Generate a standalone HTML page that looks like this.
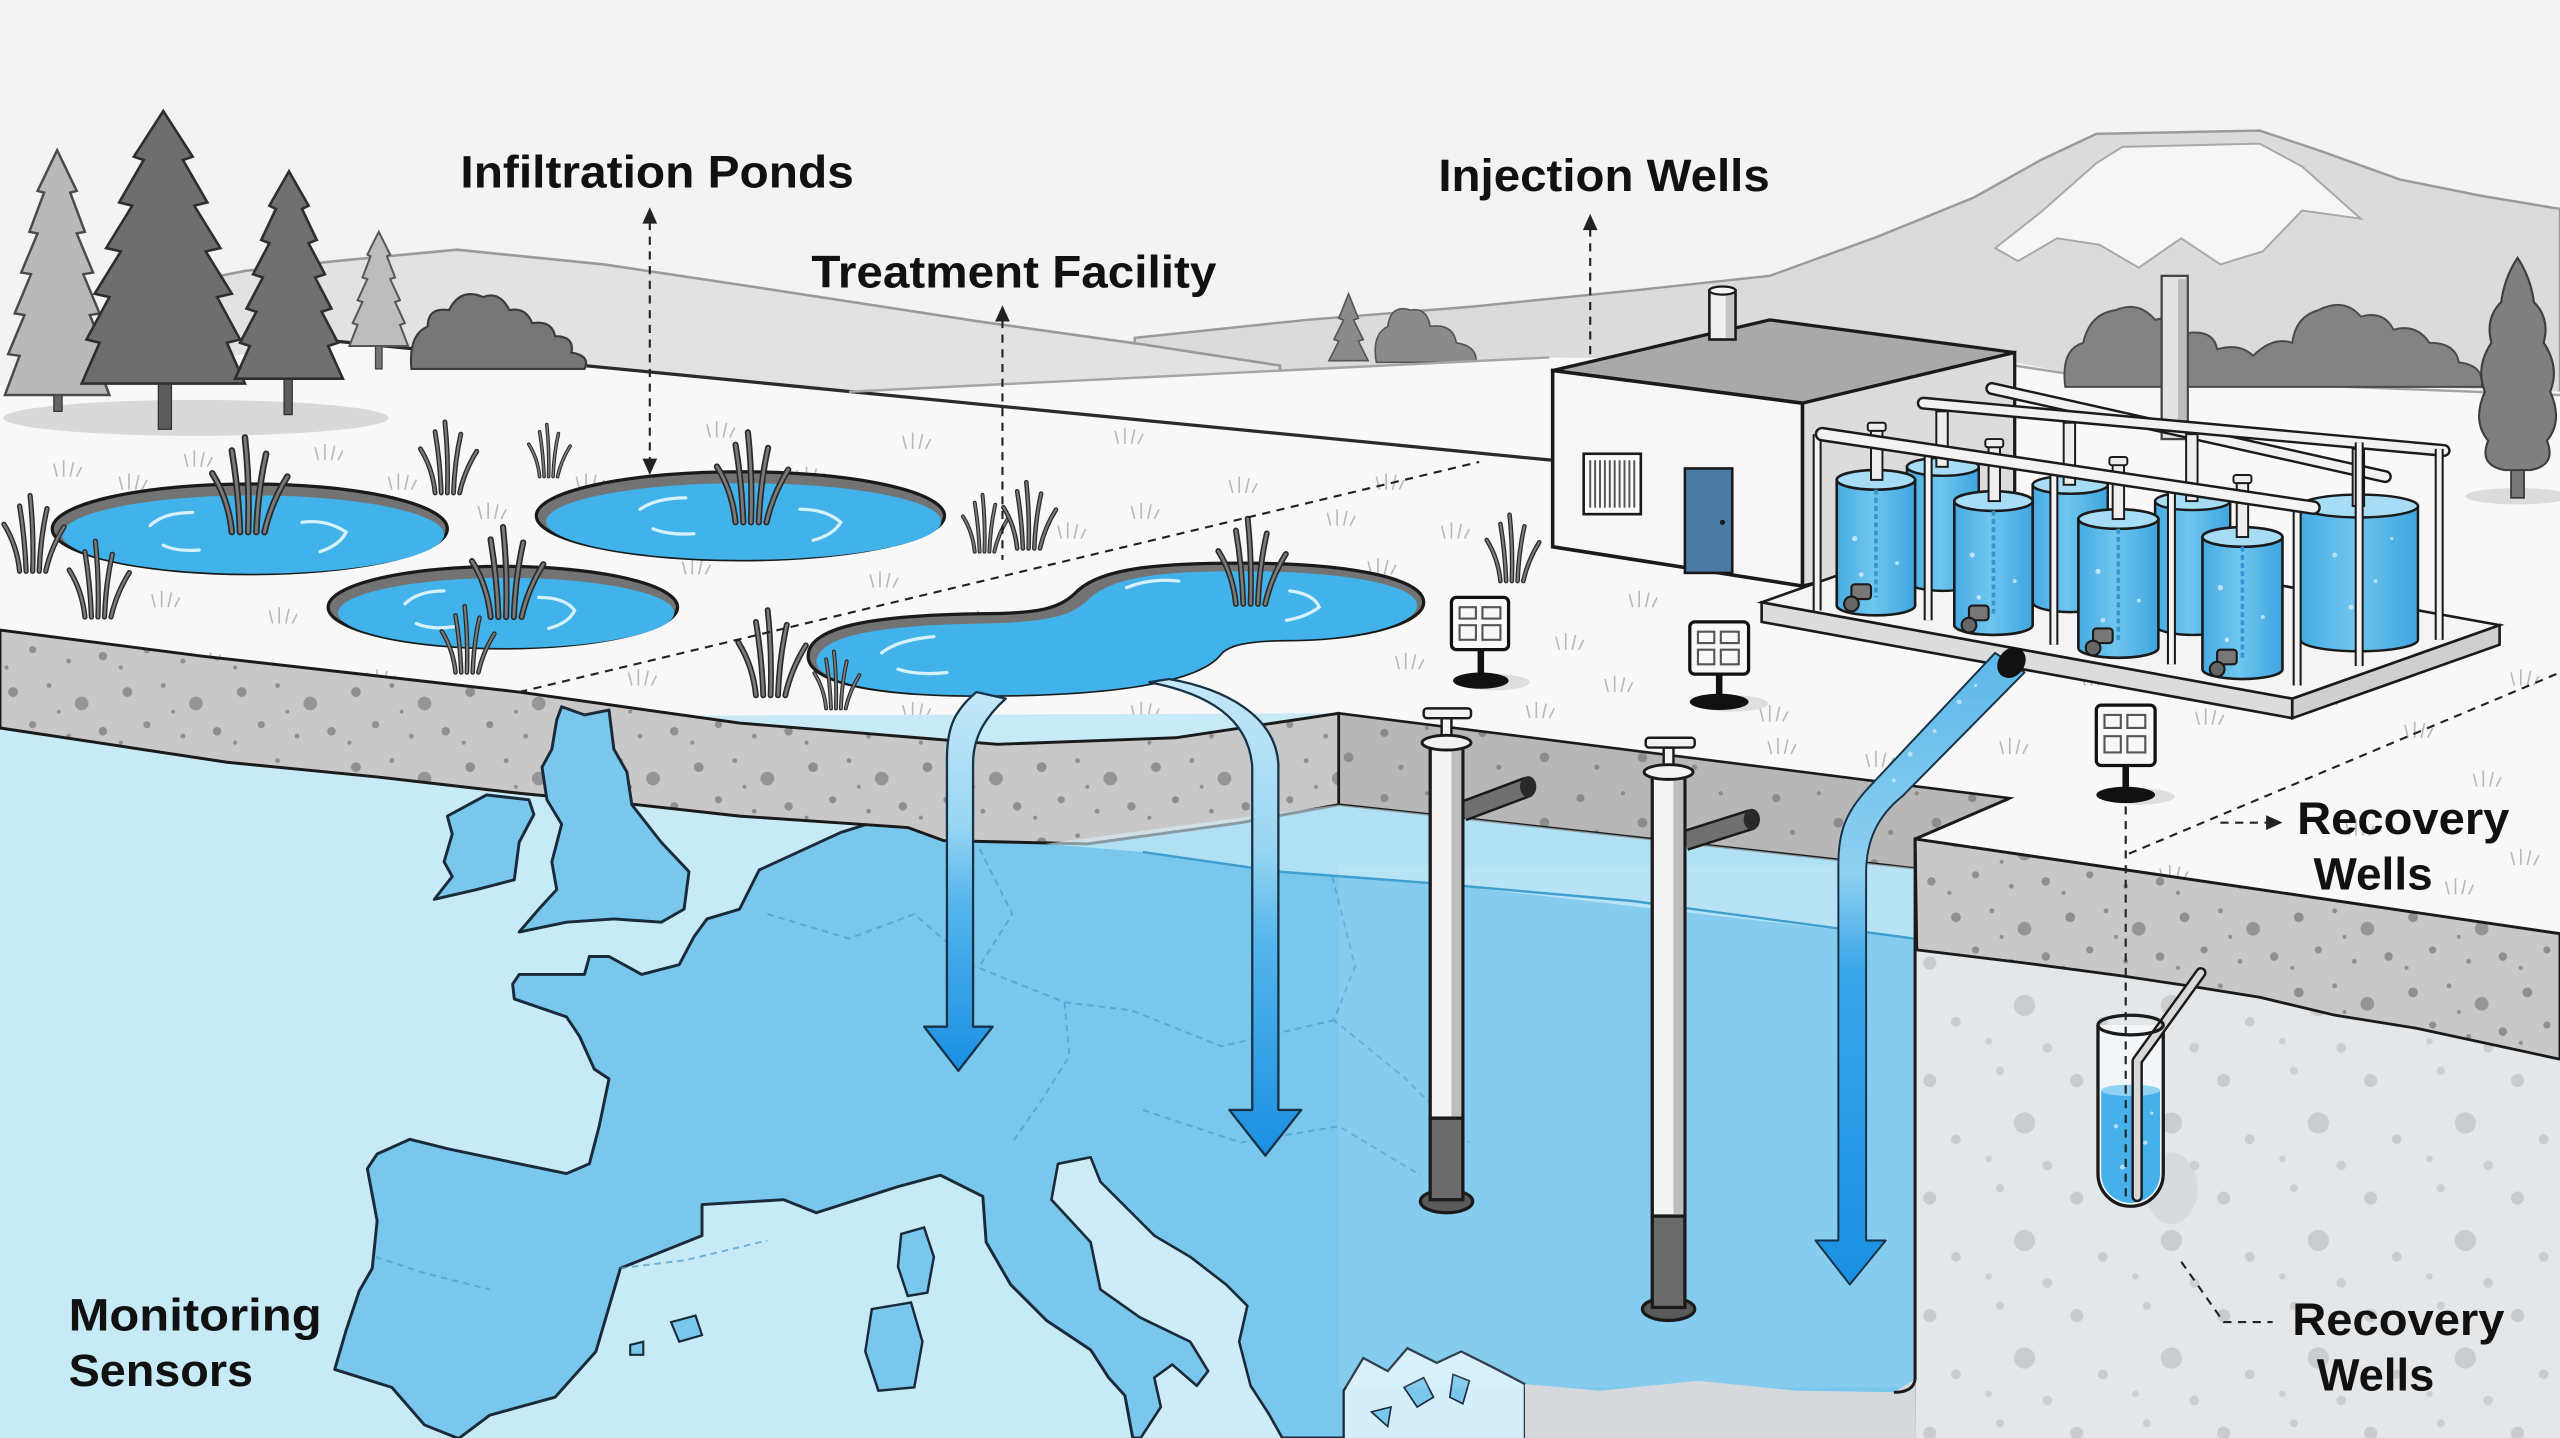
<!DOCTYPE html>
<html><head><meta charset="utf-8"><style>
html,body{margin:0;padding:0;background:#f2f3f2;overflow:hidden}
svg{display:block}
.lbl{font-family:"Liberation Sans",Arial,sans-serif;font-weight:bold;fill:#111;font-size:28px}
</style></head><body>
<svg width="2560" height="1438" viewBox="0 0 1568 881" preserveAspectRatio="none" xmlns="http://www.w3.org/2000/svg">
<defs>
<pattern id="soil" width="70" height="46" patternUnits="userSpaceOnUse">
<rect width="70" height="46" fill="#c8c8c8"/>
<circle cx="8" cy="10" r="3" fill="#8f8f8f"/><circle cx="30" cy="6" r="1.5" fill="#8f8f8f"/>
<circle cx="50" cy="17" r="4.2" fill="#959595"/><circle cx="20" cy="30" r="2.2" fill="#8f8f8f"/>
<circle cx="42" cy="37" r="1.5" fill="#8f8f8f"/><circle cx="63" cy="34" r="2.6" fill="#8f8f8f"/>
<circle cx="4" cy="41" r="1.3" fill="#8f8f8f"/><circle cx="36" cy="22" r="1.2" fill="#8f8f8f"/>
</pattern>
<pattern id="soilD" width="60" height="40" patternUnits="userSpaceOnUse">
<rect width="60" height="40" fill="#b7b7b7"/>
<circle cx="8" cy="9" r="2.5" fill="#8a8a8a"/><circle cx="34" cy="6" r="1.3" fill="#8a8a8a"/>
<circle cx="46" cy="24" r="3" fill="#8c8c8c"/><circle cx="18" cy="30" r="1.6" fill="#8a8a8a"/>
</pattern>
<pattern id="rock" width="90" height="72" patternUnits="userSpaceOnUse">
<rect width="90" height="72" fill="#e3e7e9"/>
<circle cx="12" cy="14" r="4" fill="#c8ccce"/><circle cx="55" cy="8" r="2.5" fill="#cbcfd1"/>
<circle cx="70" cy="40" r="6.5" fill="#c9cdcf"/><circle cx="28" cy="50" r="3" fill="#c8ccce"/>
<circle cx="48" cy="62" r="2" fill="#cbcfd1"/><circle cx="84" cy="66" r="3" fill="#cbcfd1"/>
</pattern>
<linearGradient id="arr" x1="0" y1="0" x2="0" y2="1">
<stop offset="0" stop-color="#c4e8f8"/><stop offset="0.35" stop-color="#9ad6f2"/>
<stop offset="0.55" stop-color="#55b6ec"/><stop offset="1" stop-color="#1a8fe2"/></linearGradient>
<linearGradient id="arr3" x1="0" y1="0" x2="0" y2="1">
<stop offset="0" stop-color="#5cb8ea"/><stop offset="0.35" stop-color="#8fd0f1"/>
<stop offset="0.5" stop-color="#3aa6ea"/><stop offset="1" stop-color="#1a8fe2"/></linearGradient>
<linearGradient id="tank" x1="0" y1="0" x2="1" y2="0">
<stop offset="0" stop-color="#47abe3"/><stop offset="0.45" stop-color="#6fc6ef"/><stop offset="1" stop-color="#3ea5e0"/></linearGradient>
<g id="tuft">
<path d="M-10 0 Q-12 -20 -22 -36 M-5 0 Q-6 -26 -10 -50 M0 0 Q1 -30 -2 -58 M5 0 Q6 -26 11 -48 M10 0 Q14 -18 24 -34" stroke="#2a2a2a" stroke-width="4" fill="none" stroke-linecap="round"/>
<path d="M-10 0 Q-12 -20 -22 -36 M-5 0 Q-6 -26 -10 -50 M0 0 Q1 -30 -2 -58 M5 0 Q6 -26 11 -48 M10 0 Q14 -18 24 -34" stroke="#7a7a7a" stroke-width="1.8" fill="none" stroke-linecap="round"/>
</g>
<g id="tick"><path d="M-5 0 L-7 -8 M-1 0 L-1 -10 M3 0 L5 -9 M7 0 L10 -6" stroke="#b9b9b9" stroke-width="1" fill="none"/></g>
</defs>

<rect width="1568" height="881" fill="#f2f3f2"/>

<!-- mountain -->
<path d="M695 207 L800 196 L900 188 L1000 178 L1084 169 L1150 145 L1209 121 L1250 98 L1284 82 L1384 80 L1420 92 L1470 110 L1520 120 L1568 128 L1568 260 L695 260 Z" fill="#dbdbdb" stroke="#9a9a9a" stroke-width="1.5"/>
<path d="M1222 152 L1250 130 L1284 100 L1300 90 L1384 88 L1410 102 L1446 134 L1410 129 L1386 154 L1360 162 L1336 146 L1310 164 L1286 150 L1260 146 L1236 160 Z" fill="#f6f6f6" stroke="#a8a8a8" stroke-width="1.2"/>
<!-- left hill -->
<path d="M100 176 L150 166 L205 160 L280 153 L370 162 L450 174 L600 197 L700 211 L784 224 L784 265 L100 265 Z" fill="#e2e2e2" stroke="#9a9a9a" stroke-width="1.6"/>

<!-- far small trees -->
<path d="M826 180 L820 195 L823 196 L817 208 L820 209 L814 221 L838 221 L832 209 L835 208 L829 196 L832 195 Z" fill="#8a8a8a" stroke="#555" stroke-width="1"/>
<path d="M843 222 Q840 205 850 200 Q852 186 864 190 Q874 188 876 200 Q890 198 892 210 Q905 212 904 222 Z" fill="#8a8a8a" stroke="#555" stroke-width="1"/>

<!-- ground -->
<path d="M0 236 L60 230 L205 209 L520 240 L949 219 L1234 222 L1280 231 L1568 240 L1568 881 L0 881 Z" fill="#f8f8f8"/>
<path d="M205 209 L951 282" stroke="#2a2a2a" stroke-width="2" fill="none"/>
<path d="M520 240 L949 219" stroke="#a5a5a5" stroke-width="1.5" fill="none"/>
<path d="M1234 224 L1280 231 L1568 242" stroke="#a5a5a5" stroke-width="1.5" fill="none"/>

<!-- right bushes & tree -->
<path d="M1265 237 Q1262 214 1276 210 Q1280 192 1296 190 Q1310 184 1320 196 Q1334 192 1340 204 Q1356 202 1358 214 Q1372 210 1380 218 Q1392 206 1404 210 Q1406 194 1420 190 Q1436 182 1446 194 Q1460 190 1466 202 Q1480 198 1488 210 Q1504 210 1506 222 Q1522 224 1520 237 Z" fill="#838383" stroke="#4a4a4a" stroke-width="1.2"/>
<ellipse cx="1542" cy="304" rx="32" ry="5" fill="#dcdcdc"/>
<rect x="1538" y="280" width="8" height="25" fill="#777" stroke="#333" stroke-width="1"/>
<path d="M1542 158 Q1550 170 1552 185 Q1562 195 1558 210 Q1568 225 1562 240 Q1570 258 1560 270 Q1566 285 1550 288 L1534 288 Q1518 285 1524 270 Q1514 258 1522 240 Q1516 225 1526 210 Q1522 195 1532 185 Q1534 170 1542 158 Z" fill="#7f7f7f" stroke="#3e3e3e" stroke-width="1.3"/>

<!-- left trees -->
<ellipse cx="120" cy="256" rx="118" ry="11" fill="#d9d9d9"/>
<rect x="33" y="236" width="5" height="16" fill="#666" stroke="#333" stroke-width="0.8"/>
<path d="M35 92 L23 117 L27 118 L18 142 L23 143 L13 167 L19 168 L9 192 L15 193 L5 217 L12 218 L3 242 L67 242 L58 218 L65 217 L55 193 L61 192 L51 168 L57 167 L47 143 L52 142 L43 118 L47 117 Z" fill="#b9b9b9" stroke="#4a4a4a" stroke-width="1.5"/>
<rect x="97" y="230" width="8" height="33" fill="#5c5c5c" stroke="#333" stroke-width="0.8"/>
<path d="M100 68 L82 96 L88 98 L73 124 L81 126 L65 152 L74 154 L58 180 L67 182 L53 208 L61 210 L50 235 L150 235 L139 210 L147 208 L133 182 L142 180 L126 154 L135 152 L119 126 L127 124 L112 98 L118 96 Z" fill="#6e6e6e" stroke="#2e2e2e" stroke-width="1.6"/>
<rect x="174" y="228" width="5" height="26" fill="#5c5c5c" stroke="#333" stroke-width="0.8"/>
<path d="M177 105 L165 126 L169 128 L160 147 L165 149 L155 168 L161 170 L151 189 L157 191 L147 210 L153 212 L144 232 L210 232 L201 212 L207 210 L197 191 L203 189 L193 170 L199 168 L189 149 L194 147 L185 128 L189 126 Z" fill="#707070" stroke="#2e2e2e" stroke-width="1.6"/>
<rect x="230" y="208" width="4" height="18" fill="#777" stroke="#444" stroke-width="0.8"/>
<path d="M232 142 L225 156 L227 157 L222 170 L225 171 L219 184 L222 185 L216 198 L219 199 L214 212 L250 212 L245 199 L248 198 L242 185 L245 184 L239 171 L242 170 L237 157 L239 156 Z" fill="#bdbdbd" stroke="#555" stroke-width="1.2"/>
<path d="M252 226 Q250 205 262 200 Q262 188 275 190 Q282 176 296 182 Q306 178 312 190 Q322 188 326 198 Q338 196 340 206 Q352 206 350 216 Q362 218 358 226 Z" fill="#767676" stroke="#3a3a3a" stroke-width="1.3"/>

<!-- grass ticks -->
<g>
<use href="#tick" x="40" y="292"/><use href="#tick" x="120" y="286"/><use href="#tick" x="200" y="282"/>
<use href="#tick" x="245" y="300"/><use href="#tick" x="300" y="318"/><use href="#tick" x="360" y="300"/>
<use href="#tick" x="425" y="352"/><use href="#tick" x="495" y="296"/><use href="#tick" x="540" y="360"/>
<use href="#tick" x="600" y="384"/><use href="#tick" x="655" y="330"/><use href="#tick" x="700" y="318"/>
<use href="#tick" x="820" y="322"/><use href="#tick" x="845" y="352"/><use href="#tick" x="862" y="410"/>
<use href="#tick" x="890" y="330"/><use href="#tick" x="960" y="398"/><use href="#tick" x="990" y="424"/>
<use href="#tick" x="1085" y="442"/><use href="#tick" x="1005" y="372"/><use href="#tick" x="1150" y="470"/>
<use href="#tick" x="1232" y="462"/><use href="#tick" x="1282" y="420"/><use href="#tick" x="1352" y="444"/>
<use href="#tick" x="1424" y="432"/><use href="#tick" x="1480" y="452"/><use href="#tick" x="1522" y="482"/>
<use href="#tick" x="1545" y="420"/><use href="#tick" x="1444" y="512"/><use href="#tick" x="1505" y="548"/>
<use href="#tick" x="100" y="372"/><use href="#tick" x="172" y="382"/><use href="#tick" x="232" y="420"/>
<use href="#tick" x="130" y="410"/><use href="#tick" x="392" y="420"/><use href="#tick" x="560" y="440"/>
<use href="#tick" x="700" y="440"/><use href="#tick" x="942" y="440"/><use href="#tick" x="80" y="300"/>
<use href="#tick" x="560" y="275"/><use href="#tick" x="440" y="268"/><use href="#tick" x="690" y="272"/>
<use href="#tick" x="760" y="302"/><use href="#tick" x="1545" y="530"/><use href="#tick" x="1330" y="540"/>
<use href="#tick" x="1090" y="462"/><use href="#tick" x="850" y="300"/>
</g>

<!-- building -->
<path d="M951 227 L1084 196 L1234 216 L1104 247 Z" fill="#a9a9a9" stroke="#1a1a1a" stroke-width="2"/>
<path d="M1104 247 L1234 216 L1234 330 L1104 359 Z" fill="#dcdcdc" stroke="#1a1a1a" stroke-width="2"/>
<path d="M951 227 L1104 247 L1104 359 L951 335 Z" fill="#f6f6f6" stroke="#1a1a1a" stroke-width="2.2"/>
<rect x="1047" y="178" width="16" height="30" fill="#efefef" stroke="#1a1a1a" stroke-width="1.6"/>
<rect x="1057" y="180" width="5" height="27" fill="#c4c4c4"/>
<ellipse cx="1055" cy="178" rx="8" ry="2.5" fill="#f6f6f6" stroke="#1a1a1a" stroke-width="1.4"/>
<rect x="970" y="278" width="35" height="37" fill="#fafafa" stroke="#1a1a1a" stroke-width="1.6"/>
<path d="M974 282 V311 M977 282 V311 M980 282 V311 M983 282 V311 M986 282 V311 M989 282 V311 M992 282 V311 M995 282 V311 M998 282 V311 M1001 282 V311" stroke="#555" stroke-width="1.2"/>
<rect x="1032" y="287" width="29" height="64" fill="#4a7ba7" stroke="#1a1a1a" stroke-width="1.6"/>
<circle cx="1055" cy="320" r="1.6" fill="#1a1a1a"/>

<!-- stack -->
<rect x="1324" y="169" width="16" height="100" fill="#e2e2e2" stroke="#444" stroke-width="1.4"/>
<rect x="1334" y="171" width="5" height="96" fill="#bcbcbc"/>

<!-- platform -->
<path d="M1079 369 L1404 428 L1404 440 L1079 381 Z" fill="#dcdcdc" stroke="#1a1a1a" stroke-width="1.6"/>
<path d="M1404 428 L1531 383 L1531 395 L1404 440 Z" fill="#cfcfcf" stroke="#1a1a1a" stroke-width="1.6"/>
<path d="M1079 369 L1206 324 L1531 383 L1404 428 Z" fill="#f4f4f4" stroke="#1a1a1a" stroke-width="1.6"/>

<!-- back tanks -->
<g stroke="#1a1a1a" stroke-width="1.5">
<path d="M1168 286 V356 A22 6 0 0 0 1212 356 V286 Z" fill="url(#tank)"/><ellipse cx="1190" cy="286" rx="22" ry="5.5" fill="#a6dcf5"/>
<path d="M1245 297 V369 A23 6 0 0 0 1291 369 V297 Z" fill="url(#tank)"/><ellipse cx="1268" cy="297" rx="23" ry="5.5" fill="#a6dcf5"/>
<path d="M1320 307 V383 A23 6 0 0 0 1366 383 V307 Z" fill="url(#tank)"/><ellipse cx="1343" cy="307" rx="23" ry="5.5" fill="#a6dcf5"/>
<path d="M1409 310 V392 A36 7 0 0 0 1481 392 V310 Z" fill="url(#tank)"/><ellipse cx="1445" cy="310" rx="36" ry="7" fill="#a6dcf5"/>
</g>
<g fill="#ffffff" opacity="0.55">
<circle cx="1430" cy="340" r="1.5"/><circle cx="1455" cy="356" r="1.2"/><circle cx="1440" cy="372" r="1.5"/><circle cx="1465" cy="330" r="1"/>
</g>

<path d="M1220 238 L1461 292" stroke="#1a1a1a" stroke-width="8" stroke-linecap="round"/>
<path d="M1220 238 L1461 292" stroke="#f1f1f1" stroke-width="5" stroke-linecap="round"/>
<path d="M1178 247 L1497 276" stroke="#1a1a1a" stroke-width="8" stroke-linecap="round"/>
<path d="M1178 247 L1497 276" stroke="#f1f1f1" stroke-width="5" stroke-linecap="round"/>
<g fill="#eeeeee" stroke="#1a1a1a" stroke-width="1.2">
<rect x="1186" y="252" width="7" height="34"/><rect x="1264" y="259" width="7" height="38"/>
<rect x="1339" y="266" width="7" height="41"/><rect x="1441" y="275" width="7" height="35"/>
</g>
<g stroke-linecap="butt">
<path d="M1113 266 V374 M1181 276 V380 M1258 287 V395 M1330 297 V407 M1407 309 V420 M1445 271 V408 M1494 275 V392" stroke="#1a1a1a" stroke-width="5.5"/>
<path d="M1113 266 V374 M1181 276 V380 M1258 287 V395 M1330 297 V407 M1407 309 V420 M1445 271 V408 M1494 275 V392" stroke="#f3f3f3" stroke-width="3"/>
</g>

<!-- front tanks -->
<g stroke="#1a1a1a" stroke-width="1.6">
<path d="M1125 294 V371 A24 6 0 0 0 1173 371 V294 Z" fill="url(#tank)"/><ellipse cx="1149" cy="294" rx="24" ry="6" fill="#a6dcf5"/>
<path d="M1197 307 V383 A24 6 0 0 0 1245 383 V307 Z" fill="url(#tank)"/><ellipse cx="1221" cy="307" rx="24" ry="6" fill="#a6dcf5"/>
<path d="M1273 318 V397 A24.5 6 0 0 0 1322 397 V318 Z" fill="url(#tank)"/><ellipse cx="1297.5" cy="318" rx="24.5" ry="6" fill="#a6dcf5"/>
<path d="M1349 329 V410 A24.5 6 0 0 0 1398 410 V329 Z" fill="url(#tank)"/><ellipse cx="1373.5" cy="329" rx="24.5" ry="6" fill="#a6dcf5"/>
</g>
<g stroke="#3596cf" stroke-width="2.2" stroke-dasharray="3 2" fill="none">
<path d="M1149 300 V366 M1221 313 V378 M1297.5 324 V392 M1373.5 335 V404"/>
</g>
<g fill="#ffffff" opacity="0.6">
<circle cx="1136" cy="330" r="1.6"/><circle cx="1162" cy="345" r="1.2"/><circle cx="1140" cy="352" r="1.4"/>
<circle cx="1208" cy="340" r="1.6"/><circle cx="1234" cy="356" r="1.2"/><circle cx="1212" cy="366" r="1.4"/>
<circle cx="1285" cy="350" r="1.6"/><circle cx="1310" cy="368" r="1.2"/><circle cx="1288" cy="380" r="1.4"/>
<circle cx="1360" cy="360" r="1.6"/><circle cx="1386" cy="378" r="1.2"/><circle cx="1364" cy="392" r="1.4"/>
</g>
<g fill="#777" stroke="#1a1a1a" stroke-width="1.3">
<rect x="1134" y="358" width="12" height="9" rx="2"/><circle cx="1134" cy="370" r="4.5" fill="#666"/>
<rect x="1206" y="371" width="12" height="9" rx="2"/><circle cx="1206" cy="383" r="4.5" fill="#666"/>
<rect x="1282" y="385" width="12" height="9" rx="2"/><circle cx="1282" cy="397" r="4.5" fill="#666"/>
<rect x="1358" y="398" width="12" height="9" rx="2"/><circle cx="1358" cy="410" r="4.5" fill="#666"/>
</g>
<g fill="#eeeeee" stroke="#1a1a1a" stroke-width="1.2">
<rect x="1146" y="262" width="7" height="32"/><rect x="1218" y="272" width="7" height="35"/>
<rect x="1294" y="283" width="7" height="35"/><rect x="1370" y="294" width="7" height="35"/>
<rect x="1144" y="259" width="11" height="5" rx="1.5"/><rect x="1216" y="269" width="11" height="5" rx="1.5"/>
<rect x="1292" y="280" width="11" height="5" rx="1.5"/><rect x="1368" y="291" width="11" height="5" rx="1.5"/>
</g>
<path d="M1116 266 L1417 311" stroke="#1a1a1a" stroke-width="9" stroke-linecap="round"/>
<path d="M1116 266 L1417 311" stroke="#f3f3f3" stroke-width="6" stroke-linecap="round"/>

<!-- ponds -->
<g stroke="#1a1a1a" stroke-width="2">
<ellipse cx="153" cy="324" rx="121" ry="27.5" fill="#737373"/>
<ellipse cx="155" cy="327.5" rx="117" ry="24" fill="#41b2ea" stroke="none"/>
<ellipse cx="453.5" cy="316" rx="125" ry="27" fill="#737373"/>
<ellipse cx="455.5" cy="319.5" rx="121" ry="23.5" fill="#41b2ea" stroke="none"/>
<ellipse cx="308" cy="372" rx="107" ry="25" fill="#737373"/>
<ellipse cx="310" cy="375.5" rx="103" ry="21.5" fill="#41b2ea" stroke="none"/>
<path d="M495 402 C495 385 530 377 600 376 C640 376 650 372 660 362 C675 348 710 345 760 345 C830 345 872 355 872 369 C872 383 830 392 790 392 C760 392 752 396 748 400 C735 418 680 426 600 426 C535 426 495 418 495 402 Z" fill="#737373"/>
<path d="M500 405 C502 390 535 383 603 382 C644 381 656 377 666 368 C680 353 712 350 762 350 C828 350 868 359 868 371 C868 383 830 392 790 392 C760 392 752 396 748 400 C735 418 680 426 600 426 C537 426 500 418 500 405 Z" fill="#41b2ea" stroke="none"/>
</g>
<g stroke="#d6f1fc" stroke-width="2" fill="none" stroke-linecap="round">
<path d="M92 322 Q100 314 118 314 M100 334 Q108 338 122 337 M185 320 Q200 318 212 326 Q208 334 196 338"/>
<path d="M392 312 Q402 305 420 305 M400 324 Q410 328 425 327 M490 312 Q506 312 515 320 Q510 328 498 331"/>
<path d="M248 370 Q256 362 272 362 M255 382 Q264 386 278 384 M330 366 Q346 366 352 374 Q348 382 336 385"/>
<path d="M540 400 Q550 392 572 390 M550 410 Q562 414 580 412 M690 360 Q705 354 722 356 M790 362 Q805 364 808 372 Q800 378 788 380"/>
</g>

<!-- grass tufts -->
<use href="#tuft" transform="translate(152,326)"/>
<use href="#tuft" transform="translate(20,350) scale(0.8)"/>
<use href="#tuft" transform="translate(60,378) scale(0.8)"/>
<use href="#tuft" transform="translate(274,302) scale(0.75)"/>
<use href="#tuft" transform="translate(336,292) scale(0.55)"/>
<use href="#tuft" transform="translate(460,320) scale(0.95)"/>
<use href="#tuft" transform="translate(310,378) scale(0.95)"/>
<use href="#tuft" transform="translate(286,412) scale(0.7)"/>
<use href="#tuft" transform="translate(472,426) scale(0.9)"/>
<use href="#tuft" transform="translate(512,434) scale(0.6)"/>
<use href="#tuft" transform="translate(603,338) scale(0.6)"/>
<use href="#tuft" transform="translate(630,336) scale(0.7)"/>
<use href="#tuft" transform="translate(766,370) scale(0.9)"/>
<use href="#tuft" transform="translate(926,356) scale(0.7)"/>

<!-- map -->
<path d="M0 440 L820 437 L1173 482 L1173 881 L0 881 Z" fill="#c7eaf7"/>
<path d="M550 470 L820 470 L1173 486 L1173 881 L280 881 L260 873 L240 850 L205 839 L212 815 L220 791 L228 777 L231 748 L225 716 L231 707 L251 698 L275 704 L318 713 L347 719 L361 713 L367 690 L373 661 L364 655 L355 635 L347 623 L315 612 L314 603 L318 597 L358 597 L361 586 L373 586 L393 597 L416 591 L425 574 L433 563 L453 557 L465 533 L515 510 L550 499 Z" fill="#79c7ec" stroke="#1a2a38" stroke-width="1.8" stroke-linejoin="round"/>
<path d="M280 882 L300 867 L340 856 L365 828 L380 777 L430 757 L430 738 L480 735 L500 743 L550 727 L576 720 L602 733 L604 761 L619 787 L641 809 L668 827 L679 844 L689 855 L694 882 Z" fill="#c7eaf7" stroke="#1a2a38" stroke-width="1.8" stroke-linejoin="round"/>
<path d="M648 713 L668 709 L674 724 L689 739 L707 757 L729 770 L751 787 L764 800 L759 822 L766 849 L777 866 L786 882 L698 882 L711 862 L707 844 L718 836 L733 849 L740 840 L729 822 L698 807 L674 790 L668 761 L644 735 Z" fill="#cdecf8" stroke="#1a2a38" stroke-width="1.6" stroke-linejoin="round"/>
<path d="M823 882 L823 852 L835 832 L850 840 L862 826 L880 835 L895 828 L915 838 L934 848 L934 882 Z" fill="#d4eff9" stroke="#1a2a38" stroke-width="1.4"/>
<path d="M860 850 L872 844 L878 856 L868 862 Z M890 842 L900 846 L896 860 L888 856 Z M840 865 L852 862 L850 874 Z" fill="#79c7ec" stroke="#1a2a38" stroke-width="1"/>
<path d="M552 756 L566 752 L572 770 L568 792 L556 794 L550 776 Z" fill="#79c7ec" stroke="#1a2a38" stroke-width="1.5"/>
<path d="M534 802 L558 798 L565 822 L560 850 L538 852 L530 828 Z" fill="#79c7ec" stroke="#1a2a38" stroke-width="1.5"/>
<path d="M411 810 L426 806 L430 818 L416 822 Z M386 824 L394 822 L394 830 L386 830 Z" fill="#79c7ec" stroke="#1a2a38" stroke-width="1.3"/>
<g stroke="#4e9fcd" stroke-width="1.2" stroke-dasharray="4 3" fill="none" opacity="0.75">
<path d="M470 560 L520 575 L560 560 L597 592 L652 614 L693 619 L748 641 L817 625"/>
<path d="M652 614 L655 647 L638 674 L620 700"/>
<path d="M816 537 L830 592 L817 625 L860 660 L900 700"/>
<path d="M380 777 L420 772 L470 760"/>
<path d="M230 770 L260 780 L300 790"/>
<path d="M700 680 L760 700 L820 690 L870 720"/>
<path d="M600 520 L620 560 L600 592"/>
</g>

<!-- soil -->
<path d="M0 386 L124 402 L318 424 L453 443 L611 456 L720 452 L820 437 L820 493 L760 504 L666 517 L578 515 L556 507 L453 500 L390 493 L318 486 L231 476 L139 467 L60 455 L0 446 Z" fill="url(#soil)" stroke="#1a1a1a" stroke-width="1.8" stroke-linejoin="round"/>
<path d="M820 437 L1231 489 L1173 514 L1173 532 L876 499 L820 493 Z" fill="url(#soilD)" stroke="#1a1a1a" stroke-width="1.6"/>
<path d="M1173 514 L1568 572 L1568 649 L1480 630 L1430 622 L1384 611 L1340 604 L1300 598 L1240 590 L1174 582 Z" fill="url(#soil)" stroke="#1a1a1a" stroke-width="1.8"/>
<path d="M1174 582 L1240 590 L1300 598 L1340 604 L1384 611 L1430 622 L1480 630 L1568 649 L1568 881 L1173 881 Z" fill="url(#rock)"/>
<path d="M1174 582 L1240 590 L1300 598 L1340 604 L1384 611 L1430 622 L1480 630 L1568 649" stroke="#1a1a1a" stroke-width="1.6" fill="none"/>
<path d="M640 517 L820 493 L876 499 L1173 532 L1173 575 L876 541 L783 534 L700 522 Z" fill="#d6f0fa" opacity="0.6"/>
<rect x="820" y="530" width="353" height="320" fill="#ffffff" opacity="0.1"/>
<path d="M700 522 L783 534 L876 541 L1000 552 L1172 575" stroke="#3e9fd2" stroke-width="1.5" fill="none"/>
<path d="M934 848 L980 852 L1040 846 L1100 852 L1160 853 L1173 845 L1173 881 L934 881 Z" fill="#d6d9db"/>
<path d="M1173 514 L1173 845 Q1172 853 1160 853" stroke="#1a1a1a" stroke-width="1.8" fill="none"/>
<path d="M1231 489 L1173 514" stroke="#1a1a1a" stroke-width="1.8" fill="none"/>

<!-- Ireland & GB -->
<path d="M274 500 L298 487 L324 490 L327 499 L318 516 L315 539 L292 545 L266 551 L277 537 L272 528 L277 511 Z" fill="#79c7ec" stroke="#1a2a38" stroke-width="1.8" stroke-linejoin="round"/>
<path d="M344 433 L358 438 L373 435 L376 459 L384 473 L387 493 L405 516 L422 534 L419 557 L405 565 L376 563 L347 565 L318 571 L330 557 L341 545 L338 528 L344 505 L335 490 L332 470 L338 459 L341 441 Z" fill="#79c7ec" stroke="#1a2a38" stroke-width="1.8" stroke-linejoin="round"/>

<!-- stream arrows -->
<path d="M598 424 C585 435 580 445 580 465 L580 629 L566 629 L587 656 L608 629 L596 629 L596 468 C596 450 605 438 616 428 Z" fill="url(#arr)" stroke="#173246" stroke-width="1.4" stroke-linejoin="round"/>
<path d="M704 418 C740 425 765 440 767 470 L767 680 L753 680 L775 708 L797 680 L783 680 L783 468 C781 438 750 422 716 416 Z" fill="url(#arr)" stroke="#173246" stroke-width="1.4" stroke-linejoin="round"/>
<path d="M1222 400 L1145 482 C1130 498 1126 510 1126 530 L1126 760 L1112 760 L1133 787 L1155 760 L1143 760 L1143 535 C1143 515 1150 500 1165 488 L1240 412 Z" fill="url(#arr3)" stroke="#173246" stroke-width="1.2" stroke-linejoin="round"/>
<g fill="#ffffff" opacity="0.5"><circle cx="1200" cy="430" r="1.5"/><circle cx="1185" cy="448" r="1.2"/><circle cx="1170" cy="462" r="1.5"/><circle cx="1210" cy="420" r="1"/><circle cx="1160" cy="478" r="1.2"/></g>
<ellipse cx="1232" cy="406" rx="8" ry="10" transform="rotate(35 1232 406)" fill="#111"/>

<!-- well 1 -->
<path d="M896 497 L936 482" stroke="#1a1a1a" stroke-width="13" stroke-linecap="butt"/>
<path d="M896 497 L936 482" stroke="#707070" stroke-width="10"/>
<ellipse cx="936" cy="482" rx="5" ry="6.5" fill="#2a2a2a"/>
<ellipse cx="886" cy="736" rx="16" ry="7" fill="#5a5a5a" stroke="#1a1a1a" stroke-width="2"/>
<rect x="876" y="685" width="20" height="50" fill="#6b6b6b" stroke="#1a1a1a" stroke-width="2"/>
<rect x="876" y="455" width="20" height="230" fill="#f3f3f3" stroke="#1a1a1a" stroke-width="2"/>
<rect x="889" y="457" width="6" height="227" fill="#bdbdbd"/>
<rect x="883" y="440" width="6" height="14" fill="#f2f2f2" stroke="#1a1a1a" stroke-width="1.5"/>
<rect x="872" y="434" width="29" height="6" rx="2" fill="#f2f2f2" stroke="#1a1a1a" stroke-width="1.5"/>
<ellipse cx="886" cy="455" rx="15" ry="4.5" fill="#f2f2f2" stroke="#1a1a1a" stroke-width="1.8"/>
<!-- well 2 -->
<path d="M1032 515 L1073 502" stroke="#1a1a1a" stroke-width="13"/>
<path d="M1032 515 L1073 502" stroke="#707070" stroke-width="10"/>
<ellipse cx="1073" cy="502" rx="5" ry="6.5" fill="#2a2a2a"/>
<ellipse cx="1022" cy="802" rx="16" ry="7" fill="#5a5a5a" stroke="#1a1a1a" stroke-width="2"/>
<rect x="1012" y="745" width="20" height="56" fill="#6b6b6b" stroke="#1a1a1a" stroke-width="2"/>
<rect x="1012" y="473" width="20" height="272" fill="#f3f3f3" stroke="#1a1a1a" stroke-width="2"/>
<rect x="1025" y="475" width="6" height="269" fill="#bdbdbd"/>
<rect x="1019" y="458" width="6" height="14" fill="#f2f2f2" stroke="#1a1a1a" stroke-width="1.5"/>
<rect x="1008" y="452" width="30" height="6" rx="2" fill="#f2f2f2" stroke="#1a1a1a" stroke-width="1.5"/>
<ellipse cx="1022" cy="473" rx="15" ry="4.5" fill="#f2f2f2" stroke="#1a1a1a" stroke-width="1.8"/>

<!-- sensors -->
<g>
<ellipse cx="915" cy="418" rx="22" ry="5" fill="#dedede"/>
<rect x="905" y="396" width="4" height="20" fill="#111"/>
<ellipse cx="907" cy="417" rx="17" ry="5" fill="#111"/>
<rect x="889" y="366" width="35" height="32" rx="3" fill="#f8f8f8" stroke="#111" stroke-width="2"/>
<path d="M894 372 h10 v7 h-10 z M908 372 h11 v7 h-11 z M894 383 h10 v9 h-10 z M908 383 h11 v9 h-11 z" fill="none" stroke="#555" stroke-width="1.3"/>
<ellipse cx="1061" cy="431" rx="22" ry="5" fill="#dedede"/>
<rect x="1051" y="411" width="4" height="19" fill="#111"/>
<ellipse cx="1053" cy="430" rx="18" ry="5" fill="#111"/>
<rect x="1035" y="381" width="36" height="32" rx="3" fill="#f8f8f8" stroke="#111" stroke-width="2"/>
<path d="M1040 387 h10 v7 h-10 z M1054 387 h11 v7 h-11 z M1040 398 h10 v9 h-10 z M1054 398 h11 v9 h-11 z" fill="none" stroke="#555" stroke-width="1.3"/>
<ellipse cx="1310" cy="488" rx="22" ry="5" fill="#dedede"/>
<rect x="1300" y="467" width="4" height="20" fill="#111"/>
<ellipse cx="1302" cy="487" rx="18" ry="5" fill="#111"/>
<rect x="1284" y="432" width="36" height="37" rx="3" fill="#f8f8f8" stroke="#111" stroke-width="2"/>
<path d="M1289 438 h10 v8 h-10 z M1303 438 h11 v8 h-11 z M1289 451 h10 v10 h-10 z M1303 451 h11 v10 h-11 z" fill="none" stroke="#555" stroke-width="1.3"/>
</g>

<!-- recovery tube -->
<ellipse cx="1330" cy="728" rx="16" ry="22" fill="#cfd3d5" opacity="0.6"/>
<path d="M1285 628 V719 A20 20 0 0 0 1325 719 V628" fill="#f2f6f8" stroke="#1a1a1a" stroke-width="2"/>
<path d="M1287 668 L1323 668 L1323 719 A18 18 0 0 1 1287 719 Z" fill="#45b0ea"/>
<ellipse cx="1305" cy="668" rx="18" ry="3.5" fill="#8fd2f3"/>
<g fill="#ffffff" opacity="0.6"><circle cx="1296" cy="690" r="1.3"/><circle cx="1314" cy="700" r="1.3"/><circle cx="1300" cy="715" r="1.5"/><circle cx="1318" cy="682" r="1"/></g>
<path d="M1309 733 V650 L1348 596" stroke="#1a1a1a" stroke-width="7" fill="none" stroke-linejoin="round" stroke-linecap="round"/>
<path d="M1309 733 V650 L1348 596" stroke="#d8d8d8" stroke-width="4" fill="none" stroke-linejoin="round" stroke-linecap="round"/>
<ellipse cx="1305" cy="628" rx="20" ry="6" fill="none" stroke="#1a1a1a" stroke-width="2"/>

<!-- dashed leaders -->
<g stroke="#222" stroke-width="1.3" stroke-dasharray="5 4" fill="none">
<path d="M398 136 V283"/>
<path d="M614 196 V343"/>
<path d="M318 424 L906 283"/>
<path d="M974 140 V220"/>
<path d="M1302 494 V735"/>
<path d="M1304 523 L1568 412"/>
<path d="M1360 504 H1389"/>
<path d="M1336 773 L1362 810 H1392"/>
</g>
<g fill="#222">
<path d="M398 127 L393.5 137 L402.5 137 Z"/>
<path d="M398 291 L393.5 281 L402.5 281 Z"/>
<path d="M614 187 L609.5 197 L618.5 197 Z"/>
<path d="M974 131 L969.5 141 L978.5 141 Z"/>
<path d="M1398 504 L1388 499.5 L1388 508.5 Z"/>
</g>

<!-- labels -->
<text class="lbl" x="282" y="115" textLength="241" lengthAdjust="spacingAndGlyphs">Infiltration Ponds</text>
<text class="lbl" x="497" y="176" textLength="248" lengthAdjust="spacingAndGlyphs">Treatment Facility</text>
<text class="lbl" x="881" y="117" textLength="203" lengthAdjust="spacingAndGlyphs">Injection Wells</text>
<text class="lbl" x="1407" y="511" textLength="130" lengthAdjust="spacingAndGlyphs">Recovery</text>
<text class="lbl" x="1417" y="545" textLength="73" lengthAdjust="spacingAndGlyphs">Wells</text>
<text class="lbl" x="1404" y="818" textLength="130" lengthAdjust="spacingAndGlyphs">Recovery</text>
<text class="lbl" x="1419" y="852" textLength="72" lengthAdjust="spacingAndGlyphs">Wells</text>
<text class="lbl" x="42" y="815" textLength="155" lengthAdjust="spacingAndGlyphs">Monitoring</text>
<text class="lbl" x="42" y="849" textLength="113" lengthAdjust="spacingAndGlyphs">Sensors</text>
</svg>
</body></html>
